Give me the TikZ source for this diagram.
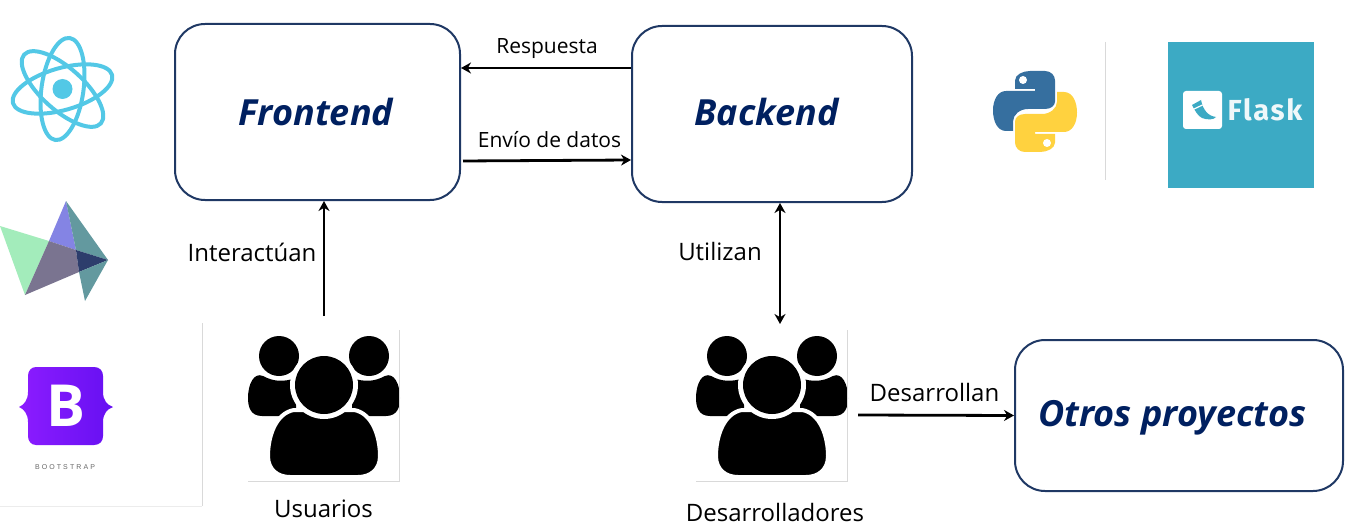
\documentclass[tikz,border=0pt]{standalone}
\usepackage{fontspec}
\usetikzlibrary{arrows.meta}
\setmainfont{Open Sans}
\newfontfamily\logofont[LetterSpace=6]{Fira Sans}
\newfontfamily\stampfont[LetterSpace=30]{Liberation Sans}
\definecolor{boxline}{HTML}{1F3864}
\definecolor{boxtext}{HTML}{002060}
\definecolor{reactblue}{HTML}{53C8E6}
\definecolor{framegray}{HTML}{D9D9D9}
\definecolor{pyblue}{HTML}{366F9F}
\definecolor{pyyellow}{HTML}{FFD23F}
\definecolor{flaskblue}{HTML}{3CAAC4}
\definecolor{bsleft}{HTML}{8C1CFF}
\definecolor{bsright}{HTML}{6610F2}
\definecolor{prismgreen}{HTML}{A3ECBB}
\definecolor{prismblue}{HTML}{8484E4}
\definecolor{prismteal}{HTML}{63999F}
\definecolor{prismgray}{HTML}{7A7490}
\definecolor{prismdark}{HTML}{2D3D6C}
\newcommand{\sizept}[1]{\fontsize{#1}{#1}\selectfont}
\tikzset{
  people/.pic={
    \fill (-45,-50) circle (20);
    \fill (45,-50) circle (20);
    \foreach \s in {-1,1} {
      \fill[xscale=\s] (-61,-30) .. controls (-50,-24) and (-40,-24) .. (-28,-28) -- (-28,10) -- (-62,10)
        .. controls (-74,10) and (-76,0) .. (-76,-8) .. controls (-76,-22) and (-70,-34) .. (-61,-30) -- cycle;
    }
    \fill[draw=white, line width=4pt] (-30,4) .. controls (-48,7) and (-56,30) .. (-56,50)
      .. controls (-56,64) and (-46,71) .. (-34,71) -- (34,71)
      .. controls (46,71) and (56,64) .. (56,50) .. controls (56,30) and (48,7) .. (30,4) -- cycle;
    \fill[white] (0,-21) circle (34);
    \fill (0,-21) circle (29);
  },
  pyhalf/.pic={
    \fill (-20,-31) .. controls (-20,-37) and (-12,-40.5) .. (-5,-40.5) -- (10,-40.5)
      .. controls (16,-40.5) and (20,-36) .. (20,-31) -- (20,-10) .. controls (20,-6) and (16,-2.5) .. (10,-2.5)
      -- (-7,-2.5) .. controls (-15,-2.5) and (-22,3) .. (-22,10) -- (-22,19.5) -- (-29,19.5)
      .. controls (-38,19.5) and (-42,9) .. (-42,-1) .. controls (-42,-12) and (-37,-20.5) .. (-29,-20.5)
      -- (0,-20.5) -- (0,-22.5) -- (-20,-22.5) -- cycle;
    \fill[white] (-12,-31.5) circle (4);
  }
}
\begin{document}
\begin{tikzpicture}[x=1pt,y=-1pt]
    \tikzstyle{box}=[draw=boxline, line width=2pt, rounded corners=30pt]
    \tikzstyle{title}=[inner sep=0pt, text=boxtext, font=\sizept{36}\bfseries\itshape]
    \tikzstyle{edge}=[black, line width=2.8pt, -{Stealth[length=10pt,width=11pt]}]
    \tikzstyle{label}=[inner sep=0pt, text=black, font=\sizept{24}]
    \tikzstyle{smalllabel}=[inner sep=0pt, text=black, font=\sizept{21}]
    \tikzstyle{frame}=[framegray, line width=1pt]
    \tikzstyle{image}=[inner sep=0pt, minimum size=151pt]

    \useasboundingbox (0,0) rectangle (1352,532);

    % main boxes
    \node[box, minimum width=285pt, minimum height=176pt] (front) at (317.5,112) {};
    \node[box, minimum width=280pt, minimum height=176pt] (back) at (772,114) {};
    \node[box, minimum width=328pt, minimum height=151pt] (other) at (1179,415.5) {};
    \node[title] (frontText) at (316,112) {Frontend};
    \node[title] (backText) at (766.5,112.5) {Backend};
    \node[title] (otherText) at (1172.5,417.5) {Otros proyectos};

    % people
    \node[image] (users) at (324,406) {};
    \node[image] (devs) at (772,406) {};
    \pic at (users.center) {people};
    \pic at (devs.center) {people};
    \draw[frame] (users.north east) -- (users.south east) -- (users.south west);
    \draw[frame] (devs.north east) -- (devs.south east) -- (devs.south west);
    \coordinate (usersTop) at (324,316);
    \coordinate (devsTop) at (780,324);
    \coordinate (devsRight) at (858,415);

    % labels
    \node[smalllabel] (resp) at (547,48.5) {Respuesta};
    \node[smalllabel] (envio) at (549.5,140) {Envío de datos};
    \node[label] (inter) at (252,252) {Interactúan};
    \node[label] (util) at (720,251) {Utilizan};
    \node[label] (desa) at (934.5,392.5) {Desarrollan};
    \node[label] (usuarios) at (323.5,509) {Usuarios};
    \node[label] (desarr) at (775,512) {Desarrolladores};

    % connectors
    \draw[edge] ([yshift=46pt]back.west) -- ([yshift=44pt]front.east);
    \draw[edge, shorten <=2pt] ([yshift=-49pt]front.east) -- ([yshift=-46pt]back.west);
    \draw[edge] (usersTop) -- (usersTop |- front.south);
    \draw[edge, {Stealth[length=10pt,width=11pt]}-{Stealth[length=10pt,width=11pt]}] (devsTop |- back.south) -- (devsTop);
    \draw[edge] (devsRight) -- (other.west);

    % react
    \node[inner sep=0pt, minimum size=8pt] (atom) at (62.5,89) {};
    \fill[reactblue] (atom) circle (10);
    \foreach \a in {16,82,138} {
      \draw[reactblue, line width=4pt, rotate around={\a:(atom)}] (atom) ellipse (51.5 and 21);
    }

    % prism
    \fill[prismgreen] (0,226) -- (49,241) -- (25,295) -- cycle;
    \fill[prismblue] (66,201) -- (49,241) -- (76,250) -- cycle;
    \fill[prismteal] (66,201) -- (108,260) -- (76,250) -- cycle;
    \fill[prismgray] (49,241) -- (76,250) -- (79,272) -- (25,295) -- cycle;
    \fill[prismdark] (76,250) -- (108,260) -- (79,272) -- cycle;
    \fill[prismteal] (79,272) -- (108,260) -- (85,301) -- cycle;

    % bootstrap
    \shade[left color=bsleft, right color=bsright] (36,367) -- (94,367) .. controls (100,367) and (103,371) .. (103,376)
      -- (103,392) .. controls (103,400) and (107,405) .. (113,407) .. controls (107,409) and (103,414) .. (103,422)
      -- (103,436) .. controls (103,441) and (100,445) .. (94,445) -- (36,445) .. controls (31,445) and (28,441) .. (28,436)
      -- (28,422) .. controls (28,414) and (24,409) .. (19,407) .. controls (24,405) and (28,400) .. (28,392)
      -- (28,376) .. controls (28,371) and (31,367) .. (36,367) -- cycle;
    \node[inner sep=0pt, text=white, font=\sizept{58}\bfseries] (bsB) at (66,406) {B};
    \node[inner sep=0pt, text=black!60, font=\sizept{7}\stampfont] (bsName) at (65,467.5) {BOOTSTRAP};
    \draw[frame] (202,323) -- (202,506);
    \draw[frame, framegray!50] (202,506) -- (0,506);

    % python
    \coordinate (pyMid) at (1035,111.5);
    \pic[pyblue] at (pyMid) {pyhalf};
    \pic[pyyellow, rotate=180] at (pyMid) {pyhalf};
    \draw[frame] (1105,42) -- (1105,180);

    % flask
    \fill[flaskblue] (1168,42) rectangle (1314,188);
    \fill[white, rounded corners=3pt] (1183,91) rectangle (1222,129);
    \fill[flaskblue] (1192,105) -- (1201,100) .. controls (1203,110) and (1208,116) .. (1216,117)
      .. controls (1214,120) and (1207,120) .. (1202,118) .. controls (1198,116) and (1195,111) .. (1192,105) -- cycle;
    \draw[white, line width=1.2pt] (1193,109.5) -- (1202.5,105);
    \node[inner sep=0pt, text=white!92!flaskblue, font=\sizept{29}\logofont\bfseries] (flask) at (1265,110) {Flask};
\end{tikzpicture}
\end{document}
